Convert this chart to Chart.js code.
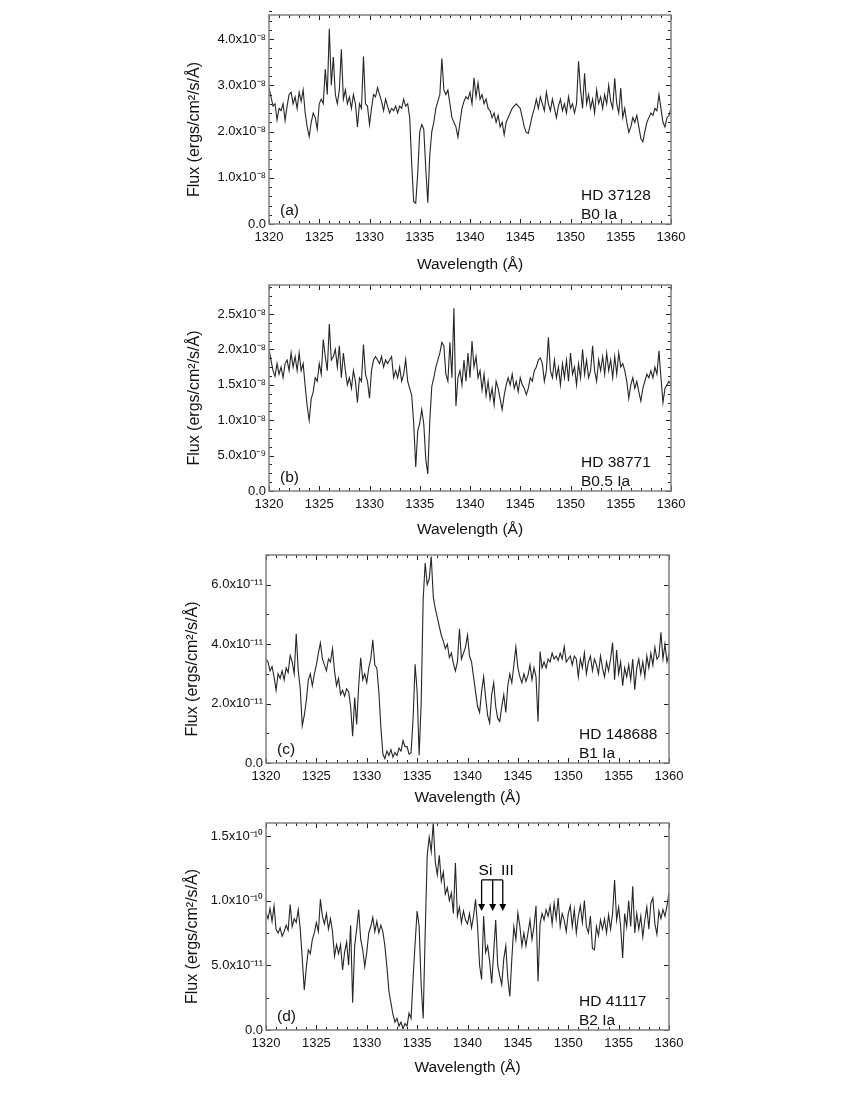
<!DOCTYPE html>
<html>
<head>
<meta charset="utf-8">
<script src="https://cdn.jsdelivr.net/npm/chart.js@4.4.1/dist/chart.umd.min.js"></script>
<style>
  html, body { margin: 0; padding: 0; background: #fff; }
  body { width: 850px; height: 1100px; position: relative; overflow: hidden; }
  canvas { position: absolute; left: 180px; }
</style>
</head>
<body>
<canvas id="panelA" width="540" height="276" style="top:0px"></canvas>
<canvas id="panelB" width="540" height="271" style="top:270px"></canvas>
<canvas id="panelC" width="540" height="269" style="top:540px"></canvas>
<canvas id="panelD" width="540" height="269" style="top:810px"></canvas>
<script>
var WL_START = 1320;
var WL_STEP = 0.2;

var xTicks = [1320, 1325, 1330, 1335, 1340, 1345, 1350, 1355, 1360];
var xTickLabels = ['1320', '1325', '1330', '1335', '1340', '1345', '1350', '1355', '1360'];

// (a) HD 37128, flux in 1e-8 ergs/cm2/s/A
var fluxA = [
  2.95, 2.75, 2.55, 2.60, 2.25, 2.50, 2.45, 2.60, 2.24, 2.55,
  2.80, 2.85, 2.60, 2.75, 2.50, 2.85, 2.65, 2.90, 2.40, 2.10,
  1.89, 2.20, 2.40, 2.30, 2.05, 2.60, 2.70, 2.60, 3.35, 2.80,
  4.22, 3.00, 3.61, 2.80, 2.60, 2.90, 3.78, 2.70, 2.90, 2.60,
  2.75, 2.50, 2.80, 2.60, 2.10, 2.60, 2.50, 3.62, 2.60, 2.55,
  2.15, 2.50, 2.80, 2.75, 2.95, 2.80, 2.65, 2.45, 2.70, 2.55,
  2.40, 2.50, 2.45, 2.55, 2.40, 2.55, 2.50, 2.70, 2.55, 2.60,
  2.30, 1.30, 0.48, 0.45, 1.10, 2.00, 2.15, 2.05, 1.20, 0.46,
  1.50, 2.00, 2.20, 2.50, 2.65, 2.80, 3.58, 2.90, 2.80, 2.90,
  2.60, 2.30, 2.20, 2.10, 1.88, 2.20, 2.50, 2.65, 2.75, 2.70,
  2.85, 2.60, 3.16, 2.75, 3.05, 2.70, 2.80, 2.60, 2.70, 2.50,
  2.45, 2.30, 2.40, 2.20, 2.35, 2.10, 2.20, 1.93, 2.20, 2.30,
  2.40, 2.50, 2.55, 2.60, 2.55, 2.50, 2.30, 2.10, 1.98, 1.96,
  2.15, 2.35, 2.50, 2.70, 2.50, 2.75, 2.60, 2.45, 2.85, 2.60,
  2.45, 2.70, 2.50, 2.30, 2.55, 2.70, 2.45, 2.60, 2.40, 2.75,
  2.50, 2.60, 2.40, 2.60, 3.52, 2.90, 2.50, 3.26, 2.60, 2.80,
  2.50, 2.70, 2.40, 2.90, 2.60, 2.75, 2.50, 2.80, 2.60, 3.00,
  2.65, 2.50, 3.15, 2.60, 2.40, 2.94, 2.30, 2.50, 2.20, 1.98,
  2.10, 2.30, 2.20, 2.35, 2.10, 1.85, 1.78, 2.00, 2.20, 2.30,
  2.40, 2.35, 2.50, 2.45, 2.80, 2.50, 2.20, 2.10, 2.30, 2.35,
  2.50
];
var yTicksA = [0, 1, 2, 3, 4];
var yTickLabelsA = ['0.0', '1.0x10\u207B\u2078', '2.0x10\u207B\u2078', '3.0x10\u207B\u2078', '4.0x10\u207B\u2078'];

// (b) HD 38771, flux in 1e-8 ergs/cm2/s/A
var fluxB = [
  2.00, 1.85, 1.70, 1.62, 1.80, 1.65, 1.75, 1.60, 1.80, 1.85,
  1.70, 1.95, 1.75, 1.90, 1.70, 1.95, 1.70, 1.80, 1.48, 1.20,
  1.00, 1.30, 1.40, 1.60, 1.55, 1.80, 1.65, 2.14, 1.90, 1.70,
  2.36, 1.85, 1.90, 2.00, 1.75, 2.05, 1.60, 1.95, 1.70, 1.50,
  1.60, 1.45, 1.70, 1.55, 1.25, 1.60, 1.55, 2.07, 1.65, 1.55,
  1.31, 1.70, 1.85, 1.90, 1.85, 1.80, 1.90, 1.75, 1.85, 1.80,
  1.85, 1.90, 1.60, 1.70, 1.60, 1.75, 1.55, 1.65, 1.86, 1.55,
  1.45, 1.35, 0.95, 0.34, 0.85, 0.96, 1.15, 0.95, 0.45, 0.24,
  1.00, 1.48, 1.60, 1.75, 1.85, 1.95, 2.10, 2.05, 1.65, 1.55,
  2.10, 1.60, 2.58, 1.20, 1.60, 1.70, 1.50, 1.85, 1.55, 1.95,
  1.60, 2.12, 1.75, 1.90, 1.60, 1.70, 1.43, 1.65, 1.35, 1.55,
  1.30, 1.45, 1.22, 1.55, 1.45, 1.30, 1.15, 1.35, 1.50, 1.60,
  1.50, 1.65, 1.45, 1.55, 1.40, 1.60, 1.50, 1.45, 1.36, 1.45,
  1.60, 1.55, 1.70, 1.75, 1.85, 1.88, 1.80, 1.55, 1.70, 2.17,
  1.70, 1.60, 1.85, 1.60, 1.75, 1.50, 1.80, 1.60, 1.85, 1.55,
  1.95, 1.65, 1.75, 1.50, 1.80, 1.60, 2.00, 1.65, 1.85, 1.60,
  1.70, 2.05, 1.70, 1.55, 1.85, 1.70, 1.90, 1.65, 1.95, 1.70,
  1.85, 1.60, 1.90, 1.65, 1.95, 1.75, 1.80, 1.70, 1.55, 1.31,
  1.50, 1.60, 1.45, 1.55, 1.40, 1.27, 1.45, 1.55, 1.65, 1.60,
  1.70, 1.60, 1.75, 1.65, 1.98, 1.60, 1.25, 1.45, 1.50, 1.55,
  1.50
];
var yTicksB = [0, 0.5, 1, 1.5, 2, 2.5];
var yTickLabelsB = ['0.0', '5.0x10\u207B\u2079', '1.0x10\u207B\u2078', '1.5x10\u207B\u2078', '2.0x10\u207B\u2078', '2.5x10\u207B\u2078'];

// (c) HD 148688, flux in 1e-11 ergs/cm2/s/A
var fluxC = [
  3.50, 3.40, 3.10, 3.25, 2.90, 2.45, 3.00, 2.85, 3.10, 2.80,
  3.20, 3.05, 3.62, 3.40, 3.00, 4.35, 3.10, 2.50, 1.25, 1.60,
  2.10, 2.80, 3.00, 2.60, 3.00, 3.30, 3.70, 4.04, 3.50, 3.30,
  3.10, 3.50, 3.40, 3.85, 3.10, 2.60, 2.85, 2.30, 2.45, 2.25,
  2.50, 2.40, 1.90, 0.90, 2.20, 1.30, 2.60, 3.54, 2.80, 3.00,
  2.70, 3.20, 3.50, 4.15, 3.30, 3.20, 2.40, 1.20, 0.30, 0.15,
  0.40, 0.25, 0.45, 0.20, 0.35, 0.25, 0.50, 0.40, 0.75, 0.55,
  0.55, 0.30, 0.35, 1.50, 3.32, 2.40, 0.26, 2.00, 5.50, 6.73,
  6.00, 6.20, 6.95, 5.60, 5.20, 4.90, 4.60, 4.30, 4.10, 3.85,
  4.00, 3.55, 3.70, 3.35, 3.10, 3.40, 4.52, 3.50, 3.70, 3.90,
  4.30, 3.60, 3.40, 2.90, 2.40, 1.90, 1.70, 2.40, 2.90, 2.20,
  1.60, 1.35, 2.30, 2.70, 1.90, 1.50, 1.40, 1.90, 2.30, 1.70,
  2.60, 3.00, 2.70, 3.30, 3.90, 3.20, 2.90, 2.70, 3.00, 2.75,
  2.95, 3.30, 2.80, 3.20, 2.90, 1.40, 3.75, 3.20, 3.40, 3.20,
  3.50, 3.40, 3.70, 3.50, 3.60, 3.45, 3.70, 3.50, 3.92, 3.40,
  3.50, 3.60, 3.30, 3.60, 3.50, 2.90, 3.50, 3.20, 3.70, 3.00,
  3.40, 3.60, 3.10, 3.50, 3.30, 3.00, 3.60, 3.20, 2.90, 3.40,
  3.10, 3.50, 4.05, 2.80, 3.80, 3.00, 3.40, 2.60, 3.20, 2.90,
  3.30, 2.80, 3.50, 2.47, 3.20, 3.50, 3.00, 3.40, 2.90, 3.60,
  3.20, 3.70, 3.30, 3.90, 3.50, 3.60, 4.40, 3.50, 4.00, 3.40,
  3.70
];
var yTicksC = [0, 2, 4, 6];
var yTickLabelsC = ['0.0', '2.0x10\u207B\u00B9\u00B9', '4.0x10\u207B\u00B9\u00B9', '6.0x10\u207B\u00B9\u00B9'];

// (d) HD 41117, flux in 1e-11 ergs/cm2/s/A
var fluxD = [
  9.05, 8.60, 9.40, 8.40, 9.60, 7.76, 7.50, 7.90, 7.24, 7.60,
  8.10, 7.70, 9.70, 8.00, 8.60, 8.30, 9.30, 7.80, 5.50, 3.10,
  4.80, 6.20, 5.90, 7.00, 7.50, 8.30, 7.60, 10.10, 8.80, 8.20,
  9.00, 7.80, 8.60, 7.60, 5.70, 6.60, 5.90, 6.60, 4.65, 6.00,
  6.80, 5.00, 8.10, 2.10, 6.50, 7.80, 9.30, 7.00, 6.20, 4.90,
  6.00, 7.50, 8.00, 8.70, 7.60, 8.40, 7.50, 8.10, 7.60, 6.50,
  4.90, 3.00, 2.10, 1.20, 0.60, 0.90, 0.30, 0.60, 0.10, 0.50,
  0.30, 1.30, 0.90, 4.00, 6.70, 9.20, 8.00, 3.50, 0.90, 7.50,
  13.50, 14.90, 13.80, 16.00, 13.00, 12.00, 13.50, 11.50, 12.20, 10.50,
  11.00, 10.00, 10.60, 9.00, 12.90, 8.80, 9.50, 8.30, 9.20, 8.50,
  8.20, 9.00, 7.90, 8.80, 10.10, 8.00, 5.00, 3.90, 8.80, 6.00,
  6.50, 5.30, 3.60, 6.00, 8.50, 5.00, 4.20, 3.50, 5.50, 6.50,
  4.00, 2.60, 5.50, 8.00, 7.00, 9.05, 8.00, 6.50, 7.50, 6.50,
  7.50, 8.50, 7.00, 8.00, 9.60, 3.75, 8.20, 9.00, 8.50, 9.30,
  8.80, 9.60, 8.20, 9.80, 8.60, 10.20, 8.00, 9.00, 8.50, 7.60,
  9.00, 9.60, 8.00, 9.30, 7.50, 8.80, 9.60, 8.30, 10.00, 8.00,
  7.50, 8.80, 6.30, 6.20, 8.00, 7.30, 8.50, 7.80, 8.60, 7.50,
  8.90, 7.80, 9.00, 11.60, 8.50, 9.50, 8.00, 5.56, 9.00, 8.00,
  10.00, 8.00, 11.10, 7.50, 9.00, 7.80, 8.80, 7.20, 8.50, 9.50,
  7.80, 9.80, 10.20, 8.20, 7.40, 9.20, 8.60, 9.30, 8.80, 9.60,
  10.60
];
var yTicksD = [0, 5, 10, 15];
var yTickLabelsD = ['0.0', '5.0x10\u207B\u00B9\u00B9', '1.0x10\u207B\u00B9\u2070', '1.5x10\u207B\u00B9\u2070'];

// Si III triplet marked in panel (d)
var siLines = [1341.4, 1342.5, 1343.5];
var siArrowTip = 9.2;
var siBracket = 11.6;
var siLabelY = 12.0;

var FONT = '"Liberation Sans", Arial, Helvetica, sans-serif';
var INK = '#111';

Chart.defaults.font.family = FONT;
Chart.defaults.color = INK;

// box, inward ticks on all four sides
var frameTicks = {
  id: 'frameTicks',
  afterDatasetsDraw: function(chart, args, opts) {
    var ctx = chart.ctx, a = chart.chartArea;
    var x = chart.scales.x, y = chart.scales.y;
    ctx.save();
    ctx.strokeStyle = '#222';
    ctx.lineWidth = 1;
    ctx.beginPath();
    for (var w = 1320; w <= 1360; w++) {
      var px = Math.round(x.getPixelForValue(w)) + 0.5;
      var len = (w % 5 === 0) ? 5 : 3;
      ctx.moveTo(px, a.bottom); ctx.lineTo(px, a.bottom - len);
      ctx.moveTo(px, a.top); ctx.lineTo(px, a.top + len);
    }
    var n = Math.round(y.max / opts.minor);
    for (var k = 0; k <= n; k++) {
      var v = k * opts.minor;
      var py = Math.round(y.getPixelForValue(v)) + 0.5;
      var major = opts.major.some(function(t) { return Math.abs(t - v) < 1e-6; });
      var l = major ? 5 : 3;
      ctx.moveTo(a.left, py); ctx.lineTo(a.left + l, py);
      ctx.moveTo(a.right, py); ctx.lineTo(a.right - l, py);
    }
    ctx.stroke();
    ctx.strokeStyle = '#808080';
    ctx.lineWidth = 1.5;
    ctx.strokeRect(a.left, a.top, a.right - a.left, a.bottom - a.top);
    ctx.restore();
  }
};

// panel letter, star name and the rotated flux title
var panelText = {
  id: 'panelText',
  afterDraw: function(chart, args, opts) {
    var ctx = chart.ctx, a = chart.chartArea;
    ctx.save();
    ctx.fillStyle = INK;
    ctx.font = '15.5px ' + FONT;
    ctx.textAlign = 'left';
    ctx.textBaseline = 'alphabetic';
    ctx.fillText(opts.letter, a.left + 11, a.bottom - 9);
    ctx.fillText(opts.star, a.right - 90, a.bottom - 24);
    ctx.fillText(opts.sp, a.right - 90, a.bottom - 5);
    ctx.font = '16px ' + FONT;
    ctx.textAlign = 'center';
    ctx.textBaseline = 'middle';
    ctx.translate(opts.titleX, (a.top + a.bottom) / 2 + 10);
    ctx.rotate(-Math.PI / 2);
    ctx.fillText('Flux (ergs/cm\u00B2/s/\u00C5)', 0, 0);
    ctx.restore();
  }
};

var siMarker = {
  id: 'siMarker',
  afterDraw: function(chart) {
    var ctx = chart.ctx, x = chart.scales.x, y = chart.scales.y;
    var top = y.getPixelForValue(siBracket);
    var tip = y.getPixelForValue(siArrowTip);
    var xs = siLines.map(function(w) { return x.getPixelForValue(w); });
    ctx.save();
    ctx.strokeStyle = '#000';
    ctx.fillStyle = '#000';
    ctx.lineWidth = 1.3;
    ctx.beginPath();
    ctx.moveTo(xs[0], top); ctx.lineTo(xs[xs.length - 1], top);
    xs.forEach(function(px) { ctx.moveTo(px, top); ctx.lineTo(px, tip - 6); });
    ctx.stroke();
    xs.forEach(function(px) {
      ctx.beginPath();
      ctx.moveTo(px - 3.5, tip - 7);
      ctx.lineTo(px + 3.5, tip - 7);
      ctx.lineTo(px, tip);
      ctx.closePath();
      ctx.fill();
    });
    ctx.font = '15.5px ' + FONT;
    ctx.textAlign = 'center';
    ctx.textBaseline = 'alphabetic';
    ctx.fillText('Si  III', x.getPixelForValue(1342.85), y.getPixelForValue(siLabelY));
    ctx.restore();
  }
};

function makePanel(id, p) {
  var canvas = document.getElementById(id);
  var H = canvas.height, W = canvas.width;
  var points = p.flux.map(function(v, i) {
    return { x: WL_START + i * WL_STEP, y: v };
  });
  var plugins = [frameTicks, panelText];
  if (p.extra) plugins.push(p.extra);
  return new Chart(canvas, {
    type: 'line',
    data: {
      datasets: [{
        data: points,
        borderColor: '#262626',
        borderWidth: 1.1,
        pointRadius: 0,
        tension: 0,
        fill: false
      }]
    },
    options: {
      responsive: false,
      animation: false,
      devicePixelRatio: 1,
      events: [],
      layout: {
        autoPadding: false,
        padding: { top: p.area.top, right: W - p.area.right, left: 0, bottom: 0 }
      },
      plugins: {
        legend: { display: false },
        tooltip: { enabled: false },
        frameTicks: { major: p.yTicks, minor: p.yMinor },
        panelText: { letter: p.letter, star: p.star, sp: p.sp, titleX: p.yTitleX }
      },
      scales: {
        x: {
          type: 'linear',
          min: 1320,
          max: 1360,
          afterFit: function(s) { s.height = H - p.area.bottom; },
          afterBuildTicks: function(s) { s.ticks = xTicks.map(function(v) { return { value: v }; }); },
          grid: { display: false, drawTicks: false },
          border: { display: false },
          ticks: {
            padding: 6,
            maxRotation: 0,
            autoSkip: false,
            color: INK,
            font: { size: 13 },
            callback: function(v, i) { return xTickLabels[i]; }
          },
          title: {
            display: true,
            text: 'Wavelength (\u00C5)',
            color: INK,
            font: { size: 15.5 },
            padding: { top: 0, bottom: 2 }
          }
        },
        y: {
          min: 0,
          max: p.yMax,
          afterFit: function(s) { s.width = p.area.left; },
          afterBuildTicks: function(s) { s.ticks = p.yTicks.map(function(v) { return { value: v }; }); },
          grid: { display: false, drawTicks: false },
          border: { display: false },
          ticks: {
            padding: 3,
            color: INK,
            font: { size: 13 },
            callback: function(v, i) { return p.yTickLabels[i]; }
          },
          title: { display: false }
        }
      }
    },
    plugins: plugins
  });
}

makePanel('panelA', {
  flux: fluxA, yMax: 4.52, yTicks: yTicksA, yTickLabels: yTickLabelsA, yMinor: 0.2,
  letter: '(a)', star: 'HD 37128', sp: 'B0 Ia',
  area: { top: 15, bottom: 224, left: 89, right: 491 }, yTitleX: 15
});
makePanel('panelB', {
  flux: fluxB, yMax: 2.91, yTicks: yTicksB, yTickLabels: yTickLabelsB, yMinor: 0.125,
  letter: '(b)', star: 'HD 38771', sp: 'B0.5 Ia',
  area: { top: 15, bottom: 221, left: 89, right: 491 }, yTitleX: 15
});
makePanel('panelC', {
  flux: fluxC, yMax: 7, yTicks: yTicksC, yTickLabels: yTickLabelsC, yMinor: 1,
  letter: '(c)', star: 'HD 148688', sp: 'B1 Ia',
  area: { top: 15, bottom: 223, left: 86, right: 489 }, yTitleX: 13
});
makePanel('panelD', {
  flux: fluxD, yMax: 16, yTicks: yTicksD, yTickLabels: yTickLabelsD, yMinor: 2.5,
  letter: '(d)', star: 'HD 41117', sp: 'B2 Ia',
  area: { top: 13, bottom: 220, left: 86, right: 489 }, yTitleX: 13,
  extra: siMarker
});
</script>
</body>
</html>
